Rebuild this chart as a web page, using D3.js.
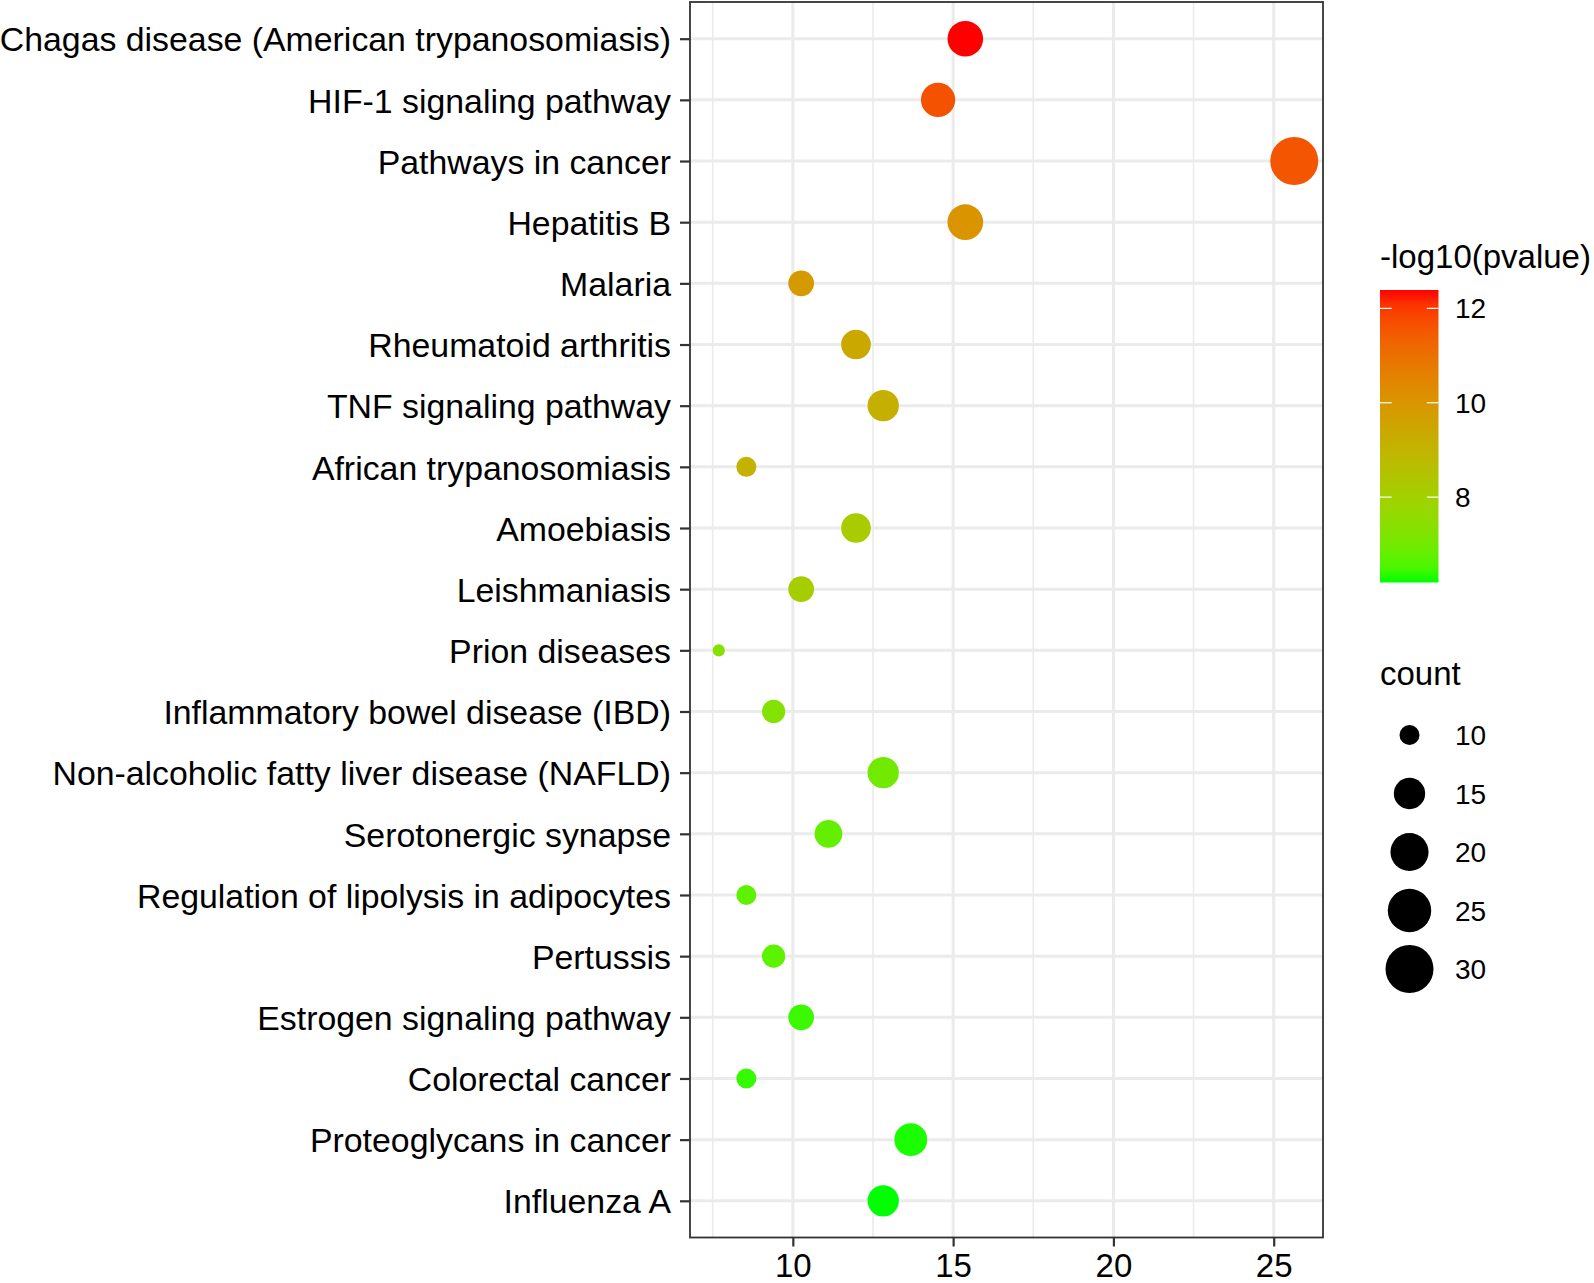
<!DOCTYPE html>
<html>
<head>
<meta charset="utf-8">
<script src="https://cdn.jsdelivr.net/npm/d3@7/dist/d3.min.js"></script>
<style>
  html, body { margin: 0; padding: 0; background: #ffffff; }
  svg { display: block; font-family: "Liberation Sans", Arial, Helvetica, sans-serif; }
</style>
</head>
<body>
<svg id="chart" width="1594" height="1283"></svg>
<script>
// ---------- data ----------
const categories = [
  "Chagas disease (American trypanosomiasis)",
  "HIF-1 signaling pathway",
  "Pathways in cancer",
  "Hepatitis B",
  "Malaria",
  "Rheumatoid arthritis",
  "TNF signaling pathway",
  "African trypanosomiasis",
  "Amoebiasis",
  "Leishmaniasis",
  "Prion diseases",
  "Inflammatory bowel disease (IBD)",
  "Non-alcoholic fatty liver disease (NAFLD)",
  "Serotonergic synapse",
  "Regulation of lipolysis in adipocytes",
  "Pertussis",
  "Estrogen signaling pathway",
  "Colorectal cancer",
  "Proteoglycans in cancer",
  "Influenza A"
];
const ratioValues = [15.38, 14.53, 25.64, 15.38, 10.26, 11.97, 12.82, 8.55, 11.97, 10.26,
                     7.69, 9.40, 12.82, 11.11, 8.55, 9.40, 10.26, 8.55, 13.68, 12.82];
const countValues = [18, 17, 30, 18, 12, 14, 15, 10, 14, 12,
                     9, 11, 15, 13, 10, 11, 12, 10, 16, 15];
const pvalueValues = [12.39, 11.65, 11.58, 10.03, 9.85, 9.41, 9.17, 9.10, 8.17, 8.11,
                      7.37, 7.31, 7.00, 6.81, 6.72, 6.69, 6.41, 6.35, 6.24, 6.19];
const xTickValues = [10, 15, 20, 25];
const xMinorValues = [7.5, 12.5, 17.5, 22.5];
const colorTickValues = [8, 10, 12];
const sizeTickValues = [10, 15, 20, 25, 30];
const colorTitle = "-log10(pvalue)";
const sizeTitle = "count";

// ---------- layout ----------
const svg = d3.select("#chart");
const panel = { left: 690, right: 1323, top: 2, bottom: 1237.5 };

const xExt = d3.extent(ratioValues);
const xPad = (xExt[1] - xExt[0]) * 0.05;
const x = d3.scaleLinear().domain([xExt[0] - xPad, xExt[1] + xPad]).range([panel.left, panel.right]);
const y = d3.scalePoint().domain(categories).range([panel.top, panel.bottom]).padding(0.6);

const pExt = d3.extent(pvalueValues);
const color = d3.scaleLinear().domain(pExt).range(["#00ff00", "#ff0000"]).interpolate(d3.interpolateLab);

const cExt = d3.extent(countValues);
const sizeT = d3.scaleLinear().domain(cExt).range([0, 1]).clamp(true);
const radiusLin = d3.scaleLinear().domain([0, 1]).range([6.1, 24]);
const radius = c => radiusLin(Math.sqrt(sizeT(c)));

const data = categories.map((c, i) => ({ cat: c, ratio: ratioValues[i], count: countValues[i], p: pvalueValues[i] }));

// ---------- panel background & grid ----------
svg.append("rect").attr("x", panel.left).attr("y", panel.top)
  .attr("width", panel.right - panel.left).attr("height", panel.bottom - panel.top)
  .attr("fill", "#ffffff");

const grid = svg.append("g");
grid.selectAll("line.minor").data(xMinorValues).join("line")
  .attr("x1", d => x(d)).attr("x2", d => x(d))
  .attr("y1", panel.top).attr("y2", panel.bottom)
  .attr("stroke", "#ebebeb").attr("stroke-width", 1.6);
grid.selectAll("line.majx").data(xTickValues).join("line")
  .attr("x1", d => x(d)).attr("x2", d => x(d))
  .attr("y1", panel.top).attr("y2", panel.bottom)
  .attr("stroke", "#ebebeb").attr("stroke-width", 3);
grid.selectAll("line.majy").data(categories).join("line")
  .attr("x1", panel.left).attr("x2", panel.right)
  .attr("y1", d => y(d)).attr("y2", d => y(d))
  .attr("stroke", "#ebebeb").attr("stroke-width", 3);

// ---------- points ----------
svg.append("g").selectAll("circle").data(data).join("circle")
  .attr("cx", d => x(d.ratio)).attr("cy", d => y(d.cat))
  .attr("r", d => radius(d.count))
  .attr("fill", d => color(d.p));

// ---------- panel border ----------
svg.append("rect").attr("x", panel.left).attr("y", panel.top)
  .attr("width", panel.right - panel.left).attr("height", panel.bottom - panel.top)
  .attr("fill", "none").attr("stroke", "#333333").attr("stroke-width", 1.8);

// ---------- axes ----------
const yAxis = d3.axisLeft(y).tickSize(10).tickPadding(9);
const gy = svg.append("g").attr("transform", `translate(${panel.left},0)`).call(yAxis);
gy.select(".domain").remove();
gy.selectAll(".tick line").attr("stroke", "#333333").attr("stroke-width", 2.2);
gy.selectAll(".tick text").attr("fill", "#000000").attr("font-size", "33.85px")
  .attr("font-family", "'Liberation Sans', Arial, sans-serif").attr("dy", "0.36em");

const xAxis = d3.axisBottom(x).tickValues(xTickValues).tickSize(9).tickPadding(7).tickFormat(d3.format("d"));
const gx = svg.append("g").attr("transform", `translate(0,${panel.bottom})`).call(xAxis);
gx.select(".domain").remove();
gx.selectAll(".tick line").attr("stroke", "#333333").attr("stroke-width", 2.2);
gx.selectAll(".tick text").attr("fill", "#000000").attr("font-size", "33px")
  .attr("font-family", "'Liberation Sans', Arial, sans-serif").attr("dy", "0.71em");

// ---------- colour legend ----------
const cbar = { x: 1380, y0: 290, y1: 582.5, w: 58.5 };
const cScale = d3.scaleLinear().domain(pExt).range([cbar.y1, cbar.y0]);
svg.append("text").attr("x", 1380).attr("y", 268)
  .attr("font-size", "33px").attr("fill", "#000").text(colorTitle);

const defs = svg.append("defs");
const grad = defs.append("linearGradient").attr("id", "cgrad")
  .attr("x1", 0).attr("y1", 1).attr("x2", 0).attr("y2", 0);
d3.range(0, 1.0001, 0.05).forEach(t => {
  grad.append("stop").attr("offset", t).attr("stop-color", color(pExt[0] + t * (pExt[1] - pExt[0])));
});
svg.append("rect").attr("x", cbar.x).attr("y", cbar.y0)
  .attr("width", cbar.w).attr("height", cbar.y1 - cbar.y0)
  .attr("fill", "url(#cgrad)");
const ct = svg.append("g");
ct.selectAll("line.l").data(colorTickValues).join("line")
  .attr("x1", cbar.x).attr("x2", cbar.x + 11.7)
  .attr("y1", d => cScale(d)).attr("y2", d => cScale(d))
  .attr("stroke", "#ffffff").attr("stroke-width", 1.2);
ct.selectAll("line.r").data(colorTickValues).join("line")
  .attr("x1", cbar.x + cbar.w - 11.7).attr("x2", cbar.x + cbar.w)
  .attr("y1", d => cScale(d)).attr("y2", d => cScale(d))
  .attr("stroke", "#ffffff").attr("stroke-width", 1.2);
ct.selectAll("text").data(colorTickValues).join("text")
  .attr("x", 1455).attr("y", d => cScale(d)).attr("dy", "0.36em")
  .attr("font-size", "28px").attr("fill", "#000").text(d => d);

// ---------- size legend ----------
svg.append("text").attr("x", 1380).attr("y", 685)
  .attr("font-size", "33px").attr("fill", "#000").text(sizeTitle);
const keyY = d3.scalePoint().domain(sizeTickValues).range([735, 969]);
const sk = svg.append("g");
sk.selectAll("circle").data(sizeTickValues).join("circle")
  .attr("cx", 1409.5).attr("cy", d => keyY(d)).attr("r", d => radius(d))
  .attr("fill", "#000000");
sk.selectAll("text").data(sizeTickValues).join("text")
  .attr("x", 1455).attr("y", d => keyY(d)).attr("dy", "0.36em")
  .attr("font-size", "28px").attr("fill", "#000").text(d => d);
</script>
</body>
</html>
